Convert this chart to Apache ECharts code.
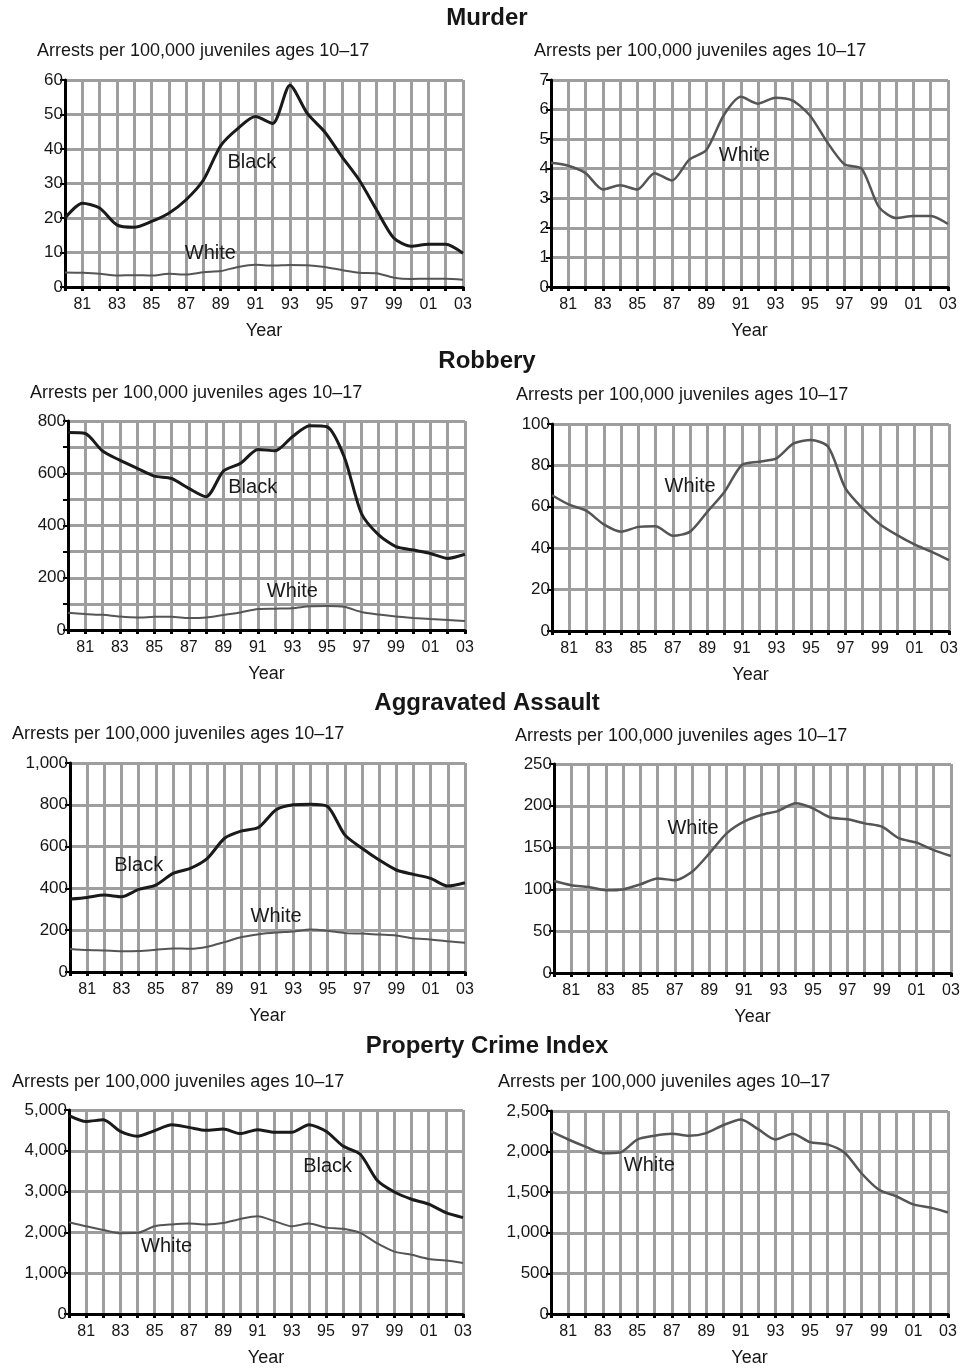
<!DOCTYPE html>
<html>
<head>
<meta charset="utf-8">
<script src="https://cdn.jsdelivr.net/npm/echarts@6/dist/echarts.min.js"></script>
<style>
html,body{margin:0;padding:0;background:#fff;}
#c{width:966px;height:1368px;}
</style>
</head>
<body>
<div id="c"></div>
<script>
// ---------- DATA ----------
const years = [1980,1981,1982,1983,1984,1985,1986,1987,1988,1989,1990,1991,1992,1993,1994,1995,1996,1997,1998,1999,2000,2001,2002,2003];
const xTickLabels = ['81','83','85','87','89','91','93','95','97','99','01','03'];
const sectionTitles = ['Murder','Robbery','Aggravated Assault','Property Crime Index'];
const subtitleText = 'Arrests per 100,000 juveniles ages 10\u201317';
const xAxisName = 'Year';

const murderBlack = [20,24.3,22.9,18,17.3,19,21.4,25.3,31,41,46,49.4,47.4,58.5,50.3,45,37.8,31,22.4,14.2,11.8,12.4,12.4,9.8];
const murderWhite = [4.2,4.1,3.85,3.3,3.44,3.3,3.85,3.6,4.3,4.63,5.8,6.43,6.2,6.4,6.3,5.8,4.9,4.15,4.0,2.7,2.33,2.4,2.4,2.13];

const robberyBlack = [756,752,685,650,619,589,580,542,510,608,638,691,686,740,782,778,663,446,364,319,306,293,274,290];
const robberyWhite = [65.6,61,58,51.5,48,50.3,50.6,46,48,57.6,67.3,80.2,81.8,83.4,90.6,92.3,89,68.9,59.2,51.6,46.3,41.8,38.2,34.2];

const assaultBlack = [349,357,368,360,395,416,472,496,544,640,675,693,776,800,803,792,656,592,536,488,467,448,411,427];
const assaultWhite = [110,105,103,99,100,106,113,111,121,143,167,181,189,194,203,197,186,184,179,175,161,156,147,140];

const propertyBlack = [4863,4719,4759,4477,4357,4494,4638,4574,4502,4534,4421,4518,4453,4453,4638,4477,4116,3915,3272,2990,2813,2693,2484,2363];
const propertyWhite = [2248,2149,2061,1981,1989,2149,2196,2220,2196,2228,2328,2396,2276,2149,2220,2117,2089,1989,1730,1530,1450,1350,1310,1250];

// ---------- LAYOUT / STYLE ----------
const FONT = '"Liberation Sans", Arial, Helvetica, sans-serif';
const GRID_COLOR = '#9e9e9e';
const TEXT_COLOR = '#161616';

function pairs(vals){ return years.map((y,i)=>[y, vals[i]]); }
function comma(v){ return String(v).replace(/\B(?=(\d{3})+(?!\d))/g, ','); }

const panels = [
  {grid:[65,80,398,207], sub:[37,52], max:60, interval:10, every:10, right:false,
   series:[['Black',murderBlack],['White',murderWhite]], labels:{Black:[1990.8,36.2], White:[1988.4,9.6]}},
  {grid:[551,80,397,207], sub:[534,52], max:7, interval:1, every:1, right:true,
   series:[['White',murderWhite]], labels:{White:[1991.2,4.46]}},
  {grid:[68,421,397,209], sub:[30,394], max:800, interval:100, every:200, right:false,
   series:[['Black',robberyBlack],['White',robberyWhite]], labels:{Black:[1990.7,547], White:[1993,149]}},
  {grid:[552,424,397,207], sub:[516,396], max:100, interval:20, every:20, right:true,
   series:[['White',robberyWhite]], labels:{White:[1988,69.6]}},
  {grid:[70,763,395,209], sub:[12,735], max:1000, interval:200, every:200, right:false,
   series:[['Black',assaultBlack],['White',assaultWhite]], labels:{Black:[1984,512], White:[1992,268]}},
  {grid:[554,764,397,209], sub:[515,737], max:250, interval:50, every:50, right:true,
   series:[['White',assaultWhite]], labels:{White:[1988.05,173]}},
  {grid:[69,1110,394,207], sub:[12,1083], max:5000, interval:1000, every:1000, right:false,
   series:[['Black',propertyBlack],['White',propertyWhite]], labels:{Black:[1995.1,3623], White:[1985.7,1667]}},
  {grid:[551,1111,397,208], sub:[498,1083], max:2500, interval:500, every:500, right:true,
   series:[['White',propertyWhite]], labels:{White:[1985.7,1827]}}
];
const sectionTitleY = [20, 363, 705, 1048];

const titles = [], grids = [], xAxes = [], yAxes = [], series = [];
sectionTitles.forEach((t,i)=>{
  titles.push({text:t, left:487, top:sectionTitleY[i]-14, textAlign:'center', padding:0,
    textStyle:{fontFamily:FONT, fontSize:24, fontWeight:'bold', color:TEXT_COLOR}});
});
panels.forEach((p,i)=>{
  titles.push({text:subtitleText, left:p.sub[0], top:p.sub[1]-10, padding:0,
    textStyle:{fontFamily:FONT, fontSize:18, fontWeight:'normal', color:TEXT_COLOR}});
  grids.push({left:p.grid[0], top:p.grid[1], width:p.grid[2], height:p.grid[3], containLabel:false});
  xAxes.push({type:'value', gridIndex:i, min:1980, max:2003, interval:1,
    axisLine:{show:true, onZero:false, lineStyle:{color:'#000', width:3}},
    axisTick:{show:true, length:4, lineStyle:{color:'#000', width:3}},
    axisLabel:{margin:10, color:TEXT_COLOR, fontSize:16, fontFamily:FONT,
      formatter:v=>{ const s=String(v).slice(2); return xTickLabels.indexOf(s)>=0 ? s : ''; }},
    splitLine:{show:true, lineStyle:{color:GRID_COLOR, width:3}},
    name:xAxisName, nameLocation:'middle', nameGap:35,
    nameTextStyle:{fontFamily:FONT, fontSize:18, color:TEXT_COLOR}});
  yAxes.push({type:'value', gridIndex:i, min:0, max:p.max, interval:p.interval,
    axisLine:{show:true, lineStyle:{color:'#000', width:3}},
    axisTick:{show:true, length:5, lineStyle:{color:'#000', width:2}},
    axisLabel:{margin:2, color:TEXT_COLOR, fontSize:17, fontFamily:FONT,
      formatter:v=> (v % p.every === 0) ? comma(v) : ''},
    splitLine:{show:true, lineStyle:{color:GRID_COLOR, width:3}}});
  p.series.forEach(([name,vals])=>{
    const isBlack = name==='Black';
    const lab = p.labels[name];
    series.push({type:'line', name:name, xAxisIndex:i, yAxisIndex:i, data:pairs(vals),
      showSymbol:false, smooth:0.25, z:5,
      lineStyle:{color: isBlack ? '#1a1a1a' : '#555', width: isBlack ? 3 : (p.right ? 2.5 : 2)},
      markPoint: lab ? {symbol:'circle', symbolSize:0, silent:true,
        data:[{name:name, coord:lab}],
        label:{show:true, position:'inside', formatter:'{b}', fontFamily:FONT, fontSize:20, color:'#1a1a1a'}} : undefined
    });
  });
});

const chart = echarts.init(document.getElementById('c'), null, {renderer:'canvas'});
chart.setOption({
  backgroundColor:'#fff',
  animation:false,
  title:titles,
  grid:grids,
  xAxis:xAxes,
  yAxis:yAxes,
  series:series
});
</script>
</body>
</html>
